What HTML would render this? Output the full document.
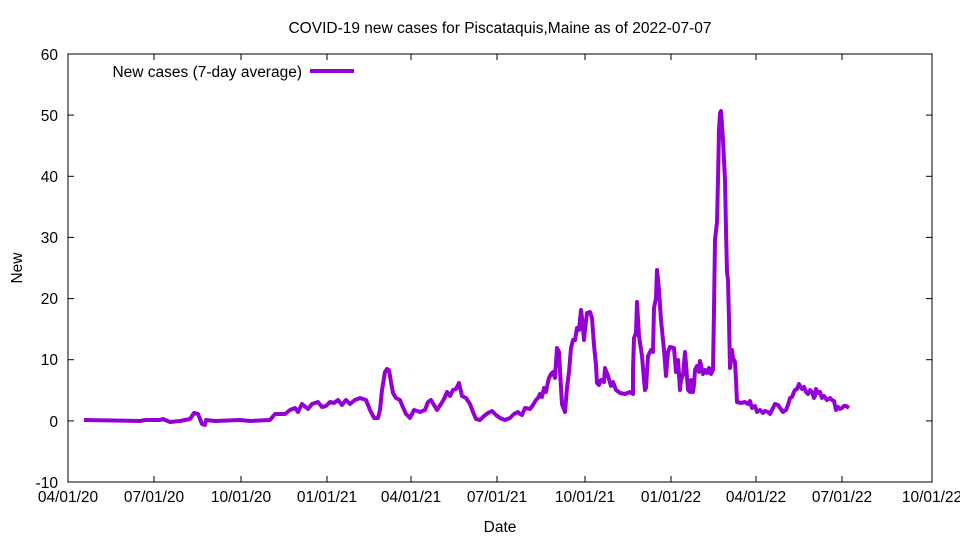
<!DOCTYPE html>
<html><head><style>body{margin:0;background:#fff}svg{display:block}text{font-family:"Liberation Sans",sans-serif;font-size:15.5px;fill:#000}</style></head><body>
<svg width="960" height="540" viewBox="0 0 960 540">
<text x="500" y="33" text-anchor="middle" font-size="16.5">COVID-19 new cases for Piscataquis,Maine as of 2022-07-07</text>
<rect x="68" y="54" width="864" height="428" fill="none" stroke="#000" stroke-width="1"/>
<g stroke="#000" stroke-width="1">
<line x1="68" y1="54" x2="74" y2="54"/><line x1="932" y1="54" x2="926" y2="54"/>
<line x1="68" y1="115.1" x2="74" y2="115.1"/><line x1="932" y1="115.1" x2="926" y2="115.1"/>
<line x1="68" y1="176.3" x2="74" y2="176.3"/><line x1="932" y1="176.3" x2="926" y2="176.3"/>
<line x1="68" y1="237.4" x2="74" y2="237.4"/><line x1="932" y1="237.4" x2="926" y2="237.4"/>
<line x1="68" y1="298.6" x2="74" y2="298.6"/><line x1="932" y1="298.6" x2="926" y2="298.6"/>
<line x1="68" y1="359.7" x2="74" y2="359.7"/><line x1="932" y1="359.7" x2="926" y2="359.7"/>
<line x1="68" y1="420.9" x2="74" y2="420.9"/><line x1="932" y1="420.9" x2="926" y2="420.9"/>
<line x1="154" y1="482" x2="154" y2="476"/><line x1="154" y1="54" x2="154" y2="60"/>
<line x1="241" y1="482" x2="241" y2="476"/><line x1="241" y1="54" x2="241" y2="60"/>
<line x1="327" y1="482" x2="327" y2="476"/><line x1="327" y1="54" x2="327" y2="60"/>
<line x1="411" y1="482" x2="411" y2="476"/><line x1="411" y1="54" x2="411" y2="60"/>
<line x1="497" y1="482" x2="497" y2="476"/><line x1="497" y1="54" x2="497" y2="60"/>
<line x1="585" y1="482" x2="585" y2="476"/><line x1="585" y1="54" x2="585" y2="60"/>
<line x1="671" y1="482" x2="671" y2="476"/><line x1="671" y1="54" x2="671" y2="60"/>
<line x1="756" y1="482" x2="756" y2="476"/><line x1="756" y1="54" x2="756" y2="60"/>
<line x1="842" y1="482" x2="842" y2="476"/><line x1="842" y1="54" x2="842" y2="60"/>
</g>
<g text-anchor="end">
<text x="58" y="60">60</text><text x="58" y="121">50</text><text x="58" y="182">40</text><text x="58" y="243">30</text><text x="58" y="304">20</text><text x="58" y="365">10</text><text x="58" y="427">0</text><text x="58" y="488">-10</text>
</g>
<g text-anchor="middle">
<text x="68" y="502">04/01/20</text><text x="154" y="502">07/01/20</text><text x="241" y="502">10/01/20</text><text x="327" y="502">01/01/21</text><text x="411" y="502">04/01/21</text><text x="497" y="502">07/01/21</text><text x="585" y="502">10/01/21</text><text x="671" y="502">01/01/22</text><text x="756" y="502">04/01/22</text><text x="842" y="502">07/01/22</text><text x="932" y="502">10/01/22</text>
<text x="500" y="532" font-size="16">Date</text>
<text x="22" y="268" font-size="16" transform="rotate(-90 22 268)">New</text>
</g>
<text x="302" y="77" text-anchor="end" font-size="16.5">New cases (7-day average)</text>
<line x1="310" y1="71" x2="354" y2="71" stroke="#9400d3" stroke-width="4"/>
<polyline fill="none" stroke="#9400d3" stroke-width="4" stroke-linejoin="round" points="84,420 140,421 145,420 160,420 163,419 170,422 180,421 190,419 194,413 198,414 202,424 205,425 206,420 215,421 240,420 250,421 270,420 275,414 285,414 290,410 295,408 298,412 302,404 308,409 312,404 318,402 322,407 326,406 330,402 334,403 338,400 342,405 346,400 350,404 355,400 360,398 366,400 370,410 374,418 378,418 380,410 382,390 385,372 387,369 389,370 391,382 393,393 396,398 400,400 402,405 406,414 410,418 414,410 420,412 425,410 428,402 431,400 434,405 437,410 441,404 444,399 447,392 450,396 453,390 456,389 459,383 462,396 466,398 470,404 473,412 476,419 480,420 484,416 488,413 492,411 496,415 500,418 505,420 510,418 514,414 518,412 520,414 522,415 525,408 530,409 533,405 536,400 538,398 540,394 542,397 544,388 546,392 548,382 549,378 551,374 553,372 555,378 557,348 559,352 561,388 562,404 565,412 567,388 569,372 571,348 573,340 575,340 577,328 579,330 581,310 582,318 584,340 585,330 587,313 590,312 592,318 594,345 596,365 597,383 599,385 601,380 604,382 605,368 608,376 611,386 613,382 616,390 620,393 625,394 630,392 633,394 633,370 634,338 636,333 637,302 639,336 642,356 644,380 645,390 646,388 648,356 651,350 653,352 654,308 656,298 657,270 659,290 661,320 664,350 666,376 668,352 670,347 674,348 676,372 678,360 679,374 680,390 681,380 683,375 685,352 686,364 688,390 690,392 691,380 693,392 694,385 695,370 697,366 699,372 700,361 703,374 705,370 707,373 709,368 711,374 713,370 714,310 715,240 717,222 718,180 719,130 720,113 721,111 723,140 725,180 726,230 727,272 728,280 729,320 730,368 731,360 732,350 733,358 735,362 736,380 737,402 741,403 745,402 748,404 750,401 752,408 755,406 757,412 760,410 763,413 765,411 768,412 770,414 773,408 775,404 778,405 780,408 783,412 786,410 788,405 790,398 792,397 794,392 795,390 797,389 799,384 800,386 802,389 804,387 806,392 808,394 810,390 812,392 814,398 815,396 816,389 818,393 820,392 822,398 824,396 827,400 830,398 832,400 834,401 836,410 838,407 840,409 842,408 844,406 846,406 849,408"/>
</svg>
</body></html>
